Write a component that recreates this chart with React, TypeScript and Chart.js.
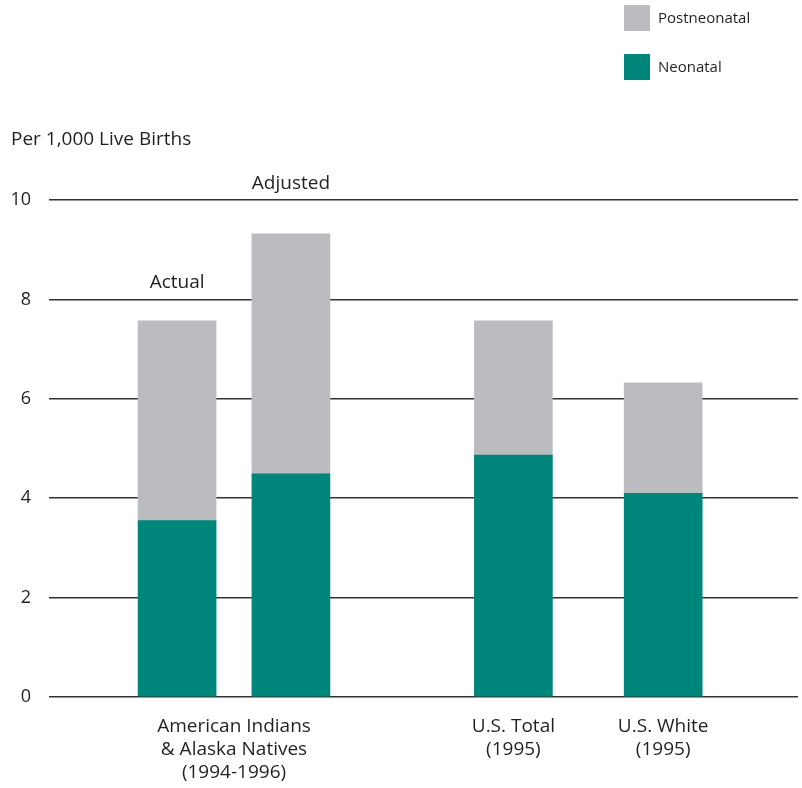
import { useEffect, useRef } from "react";
import { Chart, registerables } from "chart.js";

Chart.register(...registerables);

// ---- data ----
const seriesNames = ["Neonatal", "Postneonatal"];
const barNames = ["AI/AN Actual", "AI/AN Adjusted", "U.S. Total", "U.S. White"];
const barX = [17.1, 32.3, 62.0, 82.0];
const neonatal = [3.55, 4.49, 4.87, 4.1];
const postneonatal = [4.02, 4.83, 2.7, 2.22];
const barNotes = ["Actual", "Adjusted", "", ""];
const groupLabels = [
  ["American Indians", "& Alaska Natives", "(1994-1996)"],
  ["U.S. Total", "(1995)"],
  ["U.S. White", "(1995)"],
];
const groupBars = [[0, 1], [2], [3]];
const yTickStep = 2;
const yMax = 10;
const yTitle = "Per 1,000 Live Births";

const TEAL = "#00857a";
const GRAY = "#bbbcc0";
const TEXT = "#231f20";
const FONT = "'Open Sans', sans-serif";

const groupCenters = groupBars.map(
  (idx) => idx.reduce((s, i) => s + barX[i], 0) / idx.length
);

const decorPlugin = {
  id: "decor",
  afterDraw(chart: any) {
    const ctx = chart.ctx;
    const y = chart.scales.y;
    ctx.save();
    ctx.fillStyle = TEXT;
    // axis title
    ctx.font = `19px ${FONT}`;
    ctx.textAlign = "left";
    ctx.textBaseline = "alphabetic";
    ctx.fillText(yTitle, 11, 145);
    // bar notes
    const meta = chart.getDatasetMeta(1);
    barNotes.forEach((note, i) => {
      if (!note) return;
      const total = neonatal[i] + postneonatal[i];
      const grid = Math.ceil(total / yTickStep) * yTickStep;
      const el = meta.data[i];
      ctx.textAlign = "center";
      ctx.fillText(note, el.x, y.getPixelForValue(grid) - 11.5);
    });
    // legend (Postneonatal on top)
    const items = [
      { label: seriesNames[1], color: GRAY },
      { label: seriesNames[0], color: TEAL },
    ];
    ctx.font = `15px ${FONT}`;
    ctx.textBaseline = "middle";
    ctx.textAlign = "left";
    items.forEach((it, k) => {
      const top = 5 + k * 49;
      ctx.fillStyle = it.color;
      ctx.fillRect(624, top, 26, 26);
      ctx.fillStyle = TEXT;
      ctx.fillText(it.label, 658, top + 13.5);
    });
    ctx.restore();
  },
};

export default function App() {
  const ref = useRef<HTMLCanvasElement | null>(null);
  useEffect(() => {
    if (!ref.current) return;
    const chart = new Chart(ref.current, {
      type: "bar",
      data: {
        datasets: [
          {
            label: seriesNames[0],
            data: barX.map((x, i) => ({ x, y: neonatal[i] })),
            backgroundColor: TEAL,
            barThickness: 78,
          },
          {
            label: seriesNames[1],
            data: barX.map((x, i) => ({ x, y: postneonatal[i] })),
            backgroundColor: GRAY,
            barThickness: 78,
          },
        ],
      },
      options: {
        responsive: false,
        animation: false,
        layout: { padding: { top: 200, right: 4, left: 0, bottom: 0 } },
        plugins: {
          legend: { display: false },
          tooltip: { enabled: false },
        },
        scales: {
          x: {
            type: "linear",
            stacked: true,
            offset: false,
            bounds: "data",
            min: 0,
            max: 100,
            grid: { display: false, drawTicks: false, offset: false },
            border: { display: false },
            afterBuildTicks: (scale: any) => {
              scale.ticks = groupCenters.map((v) => ({ value: v }));
            },
            afterFit: (scale: any) => {
              scale.height = 91;
            },
            ticks: {
              autoSkip: false,
              maxRotation: 0,
              padding: 18,
              color: TEXT,
              font: { family: FONT, size: 19, lineHeight: 1.21 },
              callback: (_v: any, index: number) => groupLabels[index],
            },
          },
          y: {
            stacked: true,
            min: 0,
            max: yMax,
            grid: { color: "#333333", lineWidth: 1.5, drawTicks: false },
            border: { display: false },
            afterFit: (scale: any) => {
              scale.width = 49;
            },
            ticks: {
              stepSize: yTickStep,
              padding: 18,
              color: TEXT,
              font: { family: FONT, size: 18 },
            },
          },
        },
      },
      plugins: [decorPlugin],
    } as any);
    return () => chart.destroy();
  }, []);
  return (
    <div style={{ position: "fixed", left: 0, top: 0, width: 802, height: 788, background: "#fff" }}>
      <canvas ref={ref} width={802} height={788} style={{ display: "block" }} aria-label={barNames.join(", ")} />
    </div>
  );
}
